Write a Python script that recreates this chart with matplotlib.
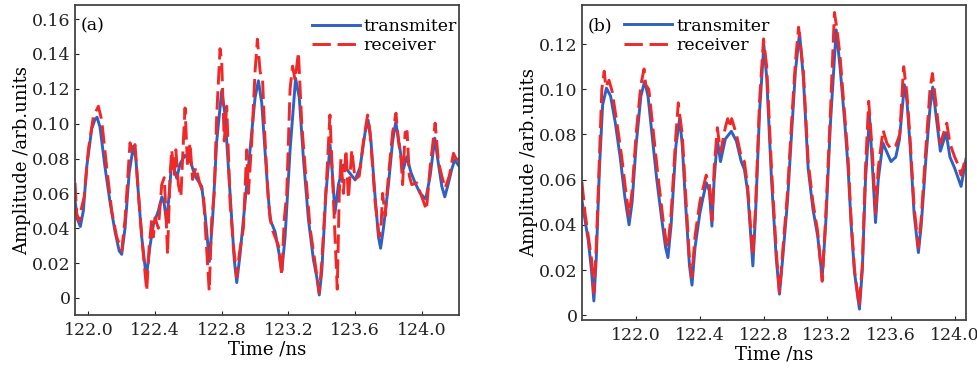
import matplotlib
matplotlib.use("Agg")
import matplotlib.pyplot as plt

plt.rcParams['font.family'] = ['DejaVu Serif']

# panel (a)
t_tx_a = [121.92, 121.935, 121.952, 121.97, 121.99, 122.02, 122.04, 122.052, 122.07, 122.10,
          122.13, 122.16, 122.185, 122.20, 122.22, 122.245, 122.27, 122.285, 122.30, 122.32,
          122.34, 122.351, 122.37, 122.39, 122.42, 122.441, 122.455, 122.47, 122.485, 122.501,
          122.515, 122.53, 122.55, 122.58, 122.61, 122.64, 122.68, 122.70, 122.726, 122.745,
          122.77, 122.80, 122.82, 122.85, 122.875, 122.89, 122.91, 122.94, 122.97, 123.0,
          123.02, 123.04, 123.07, 123.09, 123.12, 123.145, 123.16, 123.18, 123.21, 123.243,
          123.265, 123.29, 123.32, 123.35, 123.37, 123.385, 123.40, 123.425, 123.45, 123.465,
          123.479, 123.50, 123.53, 123.565, 123.60, 123.63, 123.66, 123.678, 123.695, 123.72,
          123.74, 123.753, 123.77, 123.80, 123.825, 123.844, 123.865, 123.888, 123.91, 123.935,
          123.96, 123.99, 124.024, 124.05, 124.078, 124.095, 124.12, 124.138, 124.16, 124.18,
          124.198, 124.223]
v_tx_a = [0.056, 0.045, 0.041, 0.05, 0.075, 0.097, 0.1025, 0.1037, 0.098, 0.075,
          0.055, 0.038, 0.027, 0.025, 0.04, 0.072, 0.087, 0.08, 0.06, 0.035,
          0.018, 0.0142, 0.03, 0.042, 0.05, 0.058, 0.054, 0.043, 0.06, 0.0796,
          0.074, 0.0687, 0.077, 0.0818, 0.079, 0.07, 0.064, 0.048, 0.0209, 0.045,
          0.09, 0.119, 0.105, 0.06, 0.022, 0.0088, 0.025, 0.055, 0.085, 0.115,
          0.1246, 0.112, 0.07, 0.045, 0.038, 0.025, 0.0151, 0.035, 0.085, 0.126,
          0.115, 0.08, 0.045, 0.022, 0.012, 0.0017, 0.015, 0.06, 0.0878, 0.07,
          0.0486, 0.065, 0.0763, 0.072, 0.0677, 0.075, 0.095, 0.102, 0.09, 0.058,
          0.035, 0.0285, 0.04, 0.065, 0.09, 0.101, 0.088, 0.0735, 0.081, 0.072,
          0.066, 0.06, 0.0567, 0.07, 0.0917, 0.08, 0.064, 0.058, 0.066, 0.074,
          0.0792, 0.0757]

t_rx_a = [121.92, 121.93, 121.945, 121.955, 121.975, 122.0, 122.03, 122.06, 122.08, 122.11,
          122.14, 122.17, 122.20, 122.22, 122.25, 122.265, 122.28, 122.30, 122.325, 122.35,
          122.365, 122.38, 122.39, 122.40, 122.42, 122.44, 122.455, 122.465, 122.475, 122.49,
          122.50, 122.515, 122.525, 122.54, 122.555, 122.57, 122.58, 122.595, 122.61, 122.625,
          122.645, 122.67, 122.69, 122.705, 122.725, 122.74, 122.755, 122.77, 122.79, 122.80,
          122.815, 122.83, 122.85, 122.87, 122.89, 122.905, 122.93, 122.95, 122.96, 122.98,
          123.0, 123.014, 123.03, 123.045, 123.06, 123.08, 123.10, 123.12, 123.14, 123.16,
          123.175, 123.19, 123.21, 123.225, 123.24, 123.26, 123.28, 123.30, 123.33, 123.36,
          123.385, 123.40, 123.43, 123.449, 123.46, 123.475, 123.493, 123.505, 123.515, 123.53,
          123.545, 123.56, 123.58, 123.60, 123.625, 123.65, 123.675, 123.69, 123.72, 123.745,
          123.755, 123.765, 123.78, 123.80, 123.825, 123.845, 123.86, 123.875, 123.885, 123.90,
          123.912, 123.925, 123.94, 123.97, 124.0, 124.028, 124.05, 124.08, 124.10, 124.12,
          124.14, 124.165, 124.19, 124.205, 124.223]
v_rx_a = [0.066, 0.048, 0.044, 0.05, 0.058, 0.085, 0.104, 0.110, 0.102, 0.075,
          0.05, 0.035, 0.027, 0.045, 0.089, 0.084, 0.088, 0.06, 0.03, 0.004,
          0.03, 0.045, 0.035, 0.046, 0.04, 0.065, 0.069, 0.05, 0.025, 0.07,
          0.085, 0.07, 0.085, 0.065, 0.058, 0.09, 0.109, 0.075, 0.089, 0.068,
          0.075, 0.065, 0.06, 0.035, 0.004, 0.045, 0.06, 0.105, 0.143, 0.135,
          0.09, 0.11, 0.055, 0.03, 0.012, 0.025, 0.04, 0.085, 0.06, 0.09,
          0.13, 0.1485, 0.13, 0.125, 0.09, 0.055, 0.04, 0.035, 0.03, 0.013,
          0.045, 0.06, 0.12, 0.133, 0.125, 0.141, 0.10, 0.075, 0.04, 0.02,
          0.003, 0.02, 0.07, 0.105, 0.08, 0.045, 0.005, 0.06, 0.08, 0.06,
          0.085, 0.057, 0.085, 0.068, 0.07, 0.09, 0.105, 0.095, 0.055, 0.035,
          0.04, 0.06, 0.047, 0.07, 0.095, 0.106, 0.09, 0.08, 0.065, 0.095,
          0.0955, 0.07, 0.065, 0.066, 0.058, 0.0505, 0.075, 0.1003, 0.078, 0.07,
          0.063, 0.07, 0.083, 0.08, 0.079]

# panel (b)
t_tx_b = [121.66, 121.68, 121.70, 121.72, 121.735, 121.75, 121.77, 121.79, 121.814, 121.84,
          121.87, 121.90, 121.93, 121.956, 121.975, 122.0, 122.03, 122.054, 122.075, 122.10,
          122.13, 122.16, 122.185, 122.20, 122.22, 122.25, 122.274, 122.29, 122.31, 122.335,
          122.351, 122.37, 122.40, 122.42, 122.441, 122.46, 122.476, 122.49, 122.51, 122.53,
          122.56, 122.598, 122.63, 122.66, 122.68, 122.70, 122.72, 122.733, 122.75, 122.775,
          122.802, 122.82, 122.85, 122.88, 122.90, 122.92, 122.95, 122.98, 123.0, 123.026,
          123.05, 123.08, 123.11, 123.14, 123.168, 123.19, 123.22, 123.256, 123.28, 123.31,
          123.33, 123.35, 123.371, 123.402, 123.42, 123.44, 123.465, 123.48, 123.503, 123.52,
          123.549, 123.575, 123.60, 123.63, 123.653, 123.684, 123.70, 123.72, 123.745, 123.772,
          123.79, 123.82, 123.845, 123.862, 123.88, 123.91, 123.946, 123.97, 124.0, 124.025,
          124.04, 124.055, 124.07]
v_tx_b = [0.051, 0.042, 0.033, 0.02, 0.0063, 0.025, 0.065, 0.093, 0.1005, 0.097,
          0.085, 0.07, 0.052, 0.040, 0.05, 0.075, 0.097, 0.1035, 0.097, 0.08,
          0.06, 0.043, 0.03, 0.0255, 0.04, 0.075, 0.0873, 0.075, 0.05, 0.022,
          0.0133, 0.03, 0.045, 0.052, 0.0586, 0.055, 0.0394, 0.06, 0.0777, 0.068,
          0.078, 0.0814, 0.077, 0.068, 0.0645, 0.055, 0.035, 0.0218, 0.045, 0.09,
          0.1197, 0.105, 0.06, 0.025, 0.0093, 0.025, 0.05, 0.085, 0.108, 0.1249,
          0.105, 0.065, 0.047, 0.035, 0.0166, 0.04, 0.085, 0.1263, 0.11, 0.085,
          0.066, 0.04, 0.0189, 0.0027, 0.02, 0.06, 0.088, 0.07, 0.041, 0.06,
          0.0763, 0.072, 0.068, 0.07, 0.0777, 0.102, 0.095, 0.075, 0.045, 0.0277,
          0.04, 0.07, 0.092, 0.101, 0.09, 0.0726, 0.0807, 0.07, 0.065, 0.06,
          0.057, 0.063, 0.069]

t_rx_b = [121.66, 121.68, 121.70, 121.72, 121.735, 121.75, 121.77, 121.785, 121.80, 121.81,
          121.83, 121.85, 121.88, 121.91, 121.935, 121.956, 121.975, 122.0, 122.03, 122.05,
          122.06, 122.08, 122.11, 122.14, 122.17, 122.19, 122.20, 122.22, 122.25, 122.265,
          122.275, 122.29, 122.31, 122.335, 122.35, 122.37, 122.40, 122.42, 122.44, 122.46,
          122.476, 122.49, 122.51, 122.53, 122.56, 122.575, 122.585, 122.60, 122.63, 122.66,
          122.68, 122.70, 122.72, 122.733, 122.75, 122.775, 122.80, 122.82, 122.85, 122.88,
          122.90, 122.92, 122.95, 122.98, 123.0, 123.02, 123.05, 123.08, 123.11, 123.14,
          123.168, 123.19, 123.22, 123.245, 123.26, 123.28, 123.31, 123.33, 123.35, 123.371,
          123.40, 123.42, 123.44, 123.46, 123.47, 123.485, 123.503, 123.52, 123.55, 123.575,
          123.60, 123.63, 123.655, 123.675, 123.68, 123.70, 123.72, 123.745, 123.772, 123.79,
          123.82, 123.845, 123.86, 123.88, 123.91, 123.95, 123.97, 124.0, 124.025, 124.04,
          124.055, 124.07]
v_rx_b = [0.059, 0.045, 0.035, 0.025, 0.01, 0.03, 0.07, 0.1, 0.108, 0.101,
          0.104, 0.099, 0.085, 0.07, 0.055, 0.044, 0.055, 0.08, 0.102, 0.109,
          0.102, 0.1, 0.08, 0.06, 0.042, 0.032, 0.03, 0.045, 0.08, 0.094,
          0.088, 0.08, 0.055, 0.025, 0.017, 0.035, 0.05, 0.056, 0.062, 0.058,
          0.042, 0.065, 0.083, 0.072, 0.083, 0.087, 0.083, 0.087, 0.08, 0.07,
          0.068, 0.057, 0.038, 0.026, 0.048, 0.095, 0.1223, 0.11, 0.065, 0.028,
          0.01, 0.028, 0.054, 0.09, 0.112, 0.1275, 0.108, 0.068, 0.05, 0.037,
          0.015, 0.043, 0.09, 0.134, 0.127, 0.115, 0.088, 0.07, 0.042, 0.02,
          0.004, 0.022, 0.065, 0.0947, 0.085, 0.07, 0.045, 0.065, 0.082, 0.076,
          0.0736, 0.075, 0.08, 0.105, 0.11, 0.098, 0.078, 0.048, 0.03, 0.043,
          0.075, 0.1, 0.107, 0.095, 0.076, 0.085, 0.076, 0.07, 0.066, 0.062,
          0.066, 0.0704]

x_ticks = [122.0, 122.4, 122.8, 123.2, 123.6, 124.0]
y_ticks_a = [0, 0.02, 0.04, 0.06, 0.08, 0.10, 0.12, 0.14, 0.16]
y_ticks_b = [0, 0.02, 0.04, 0.06, 0.08, 0.10, 0.12]

blue = '#3060c4'
red = '#f02828'

fig = plt.figure(figsize=(9.78, 3.68), dpi=100)
ax1 = fig.add_axes([0.0767, 0.144, 0.3926, 0.842])
ax2 = fig.add_axes([0.595, 0.13, 0.3926, 0.857])


def ylab(v):
    return '0' if v == 0 else '%.2f' % v


def style(ax, yt, xlim, ylim):
    ax.set_xlim(*xlim)
    ax.set_ylim(*ylim)
    ax.set_xticks(x_ticks)
    ax.set_xticklabels(['%.1f' % x for x in x_ticks])
    ax.set_yticks(yt)
    ax.set_yticklabels([ylab(v) for v in yt])
    ax.tick_params(direction='in', length=3, width=0.8, labelsize=12.5, colors='#222222')
    ax.tick_params(axis='x', pad=5)
    ax.tick_params(axis='y', pad=3)
    for s in ax.spines.values():
        s.set_linewidth(1.3)
        s.set_color('#444444')
    ax.set_xlabel('Time /ns', fontsize=13, labelpad=1)
    ax.set_ylabel('Amplitude /arb.units', fontsize=13, labelpad=1)


for ax, tt, vt, tr, vr in [(ax1, t_tx_a, v_tx_a, t_rx_a, v_rx_a), (ax2, t_tx_b, v_tx_b, t_rx_b, v_rx_b)]:
    ax.plot(tt, vt, color=blue, lw=2.1, label='transmiter')
    ax.plot(tr, vr, color=red, lw=2.1, dashes=(6.3, 2.3), label='receiver')

style(ax1, y_ticks_a, (121.92, 124.223), (-0.0098, 0.168))
style(ax2, y_ticks_b, (121.66, 124.07), (-0.0022, 0.1374))

ax1.text(0.014, 0.96, '(a)', transform=ax1.transAxes, fontsize=12.5, va='top', ha='left')
ax2.text(0.016, 0.96, '(b)', transform=ax2.transAxes, fontsize=12.5, va='top', ha='left')

ax1.legend(loc='upper right', bbox_to_anchor=(1.0, 0.965), frameon=False, fontsize=12.5,
           handlelength=2.75, handletextpad=0.25, labelspacing=0.15, borderpad=0, borderaxespad=0.1)
ax2.legend(loc='upper left', bbox_to_anchor=(0.105, 0.965), frameon=False, fontsize=12.5,
           handlelength=2.75, handletextpad=0.25, labelspacing=0.15, borderpad=0, borderaxespad=0.1)

fig.savefig('out.png', dpi=100)
